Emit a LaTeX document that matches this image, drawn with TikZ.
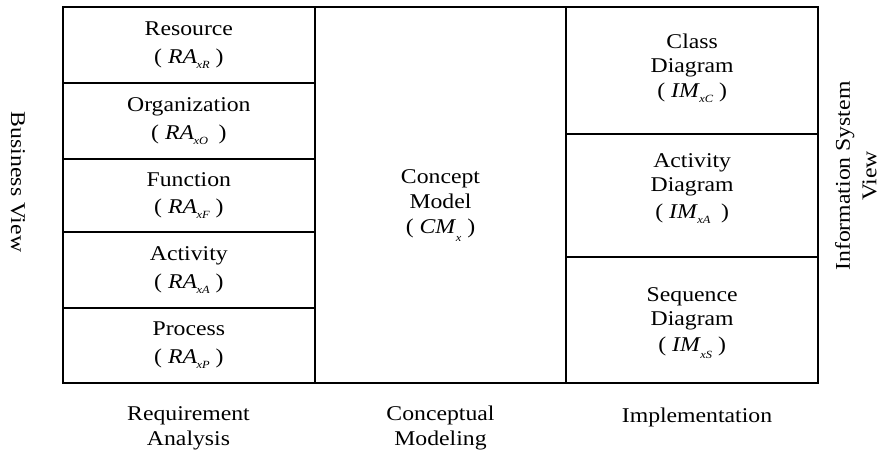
\documentclass[tikz,border=0pt]{standalone}
\usepackage{fontspec}
\setmainfont{Liberation Serif}[FakeStretch=1.13]
\newcommand\lowsub[2][5pt]{\kern-0.5pt\raisebox{-#1}{\fontsize{11}{11}\selectfont\itshape #2}}
\begin{document}
\begin{tikzpicture}[x=1pt,y=1pt,
  every node/.style={font=\fontsize{21}{24.5}\selectfont},
  cell/.style={draw, line width=2pt, rectangle, inner sep=0pt, align=center},
  lbl/.style={align=center, inner sep=0pt}]
\useasboundingbox (0,0) rectangle (885,-453);
% left column
\node[cell, minimum width=252.3pt, minimum height=76pt]   (res) at (188.85,-45.3)  {Resource\\[3pt]( \textit{RA}\lowsub{xR} )};
\node[cell, minimum width=252.3pt, minimum height=75.7pt] (org) at (188.85,-121.15) {Organization\\[3pt]( \textit{RA}\lowsub{xO}\enspace)};
\node[cell, minimum width=252.3pt, minimum height=73.3pt] (fun) at (188.85,-195.65) {Function\\[3pt]( \textit{RA}\lowsub{xF} )};
\node[cell, minimum width=252.3pt, minimum height=75.4pt] (act) at (188.85,-270)    {Activity\\[3pt]( \textit{RA}\lowsub{xA} )};
\node[cell, minimum width=252.3pt, minimum height=75.3pt] (pro) at (188.85,-345.35) {Process\\[3pt]( \textit{RA}\lowsub{xP} )};
% middle column
\node[cell, minimum width=251pt, minimum height=375.7pt] (cm) at (440.5,-195.15) {};
\node[lbl, anchor=base] (cmt) at (440.5,-233) {Concept\\Model\\[0.5pt]( \textit{CM}\lowsub[8pt]{x} )};
% right column
\node[cell, minimum width=252.3pt, minimum height=126.7pt] (cd) at (692.15,-70.65)  {};
\node[cell, minimum width=252.3pt, minimum height=122.7pt] (ad) at (692.15,-195.35) {};
\node[cell, minimum width=252.3pt, minimum height=126.6pt] (sd) at (692.15,-320)    {};
\node[lbl, anchor=base] (cdt) at (692.15,-97)  {Class\\Diagram\\( \textit{IM}\lowsub{xC} )};
\node[lbl, anchor=base] (adt) at (692.15,-218) {Activity\\Diagram\\[2pt]( \textit{IM}\lowsub{xA}\enspace)};
\node[lbl, anchor=base] (sdt) at (692.15,-351) {Sequence\\Diagram\\[1pt]( \textit{IM}\lowsub[7pt]{xS} )};
% side labels
\node[lbl, rotate=-90] (bv) at (18,-182) {Business View};
\node[lbl, rotate=90, font=\fontsize{21}{26.5}\selectfont] (isv) at (856,-176) {Information System\\View};
% bottom labels
\node[lbl, anchor=base] (ra) at (188.5,-445) {Requirement\\Analysis};
\node[lbl, anchor=base] (cmo) at (440.5,-445) {Conceptual\\Modeling};
\node[lbl, anchor=base] (im) at (697,-422) {Implementation};
\end{tikzpicture}
\end{document}
